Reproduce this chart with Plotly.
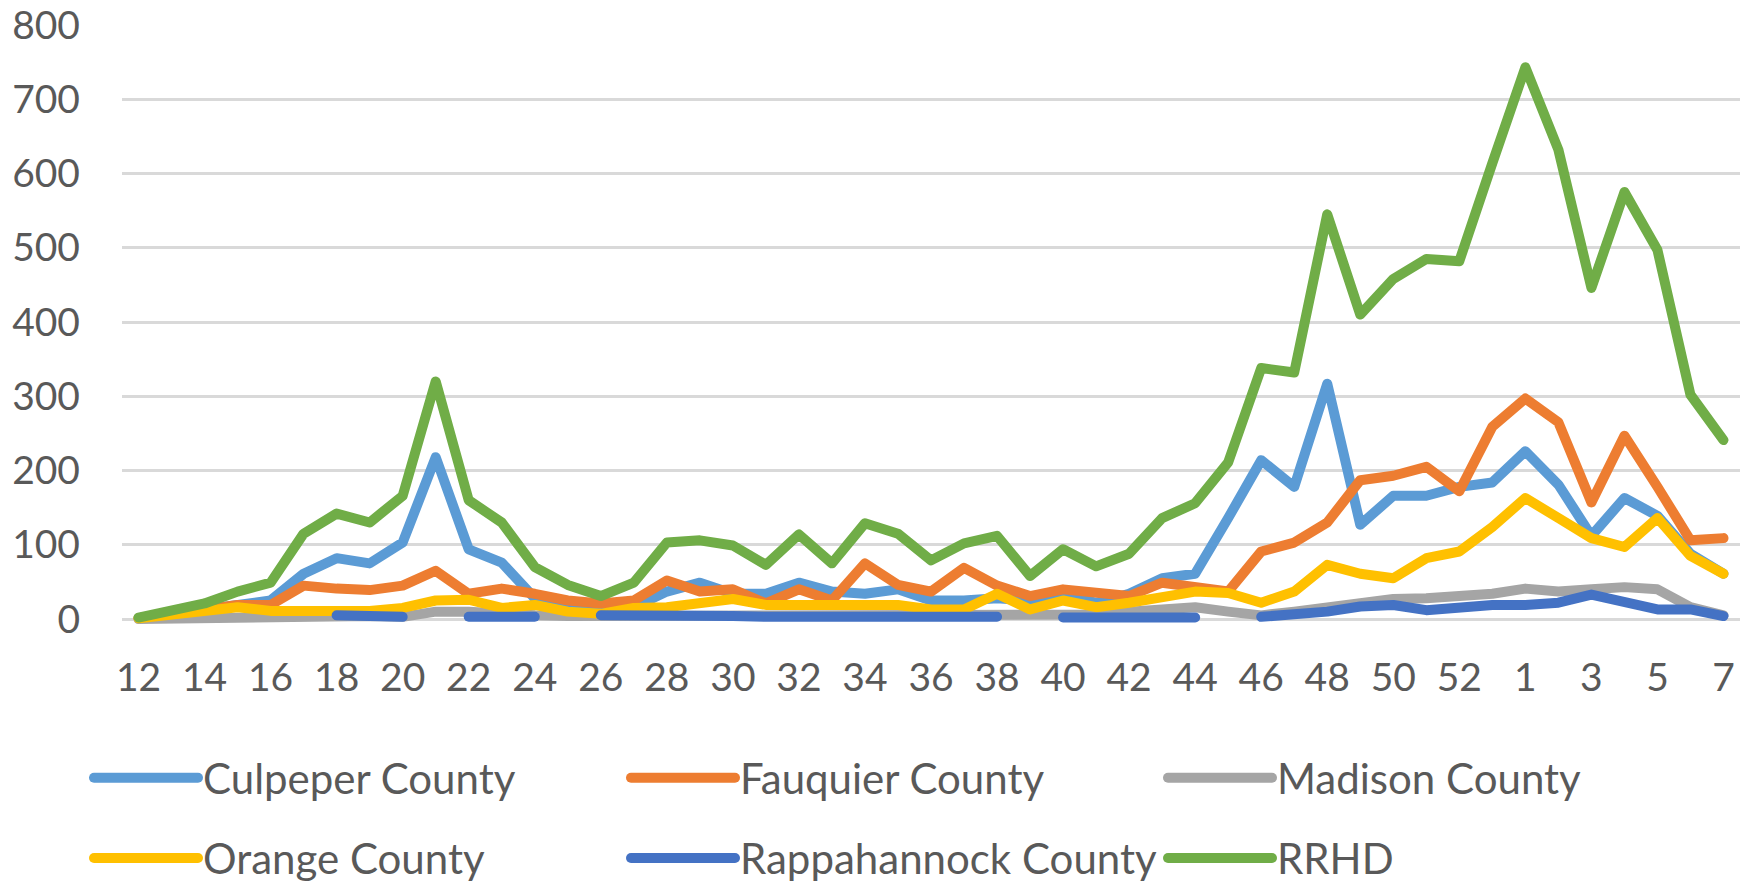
import plotly.graph_objects as go

weeks = [str(w) for w in list(range(12, 54)) + list(range(1, 8))]
x_tick_labels = weeks[::2]

culpeper = [1, 7, 16, 22, 25, 61, 82, 75, 103, 218, 94, 76, 28, 16, 13, 16, 37, 49, 34, 34,
            49, 37, 34, 40, 25, 25, 28, 25, 31, 22, 34, 55, 61, 136, 214, 178, 317, 127, 166, 166,
            178, 184, 226, 181, 112, 163, 139, 88, 61]
fauquier = [1, 5, 13, 19, 19, 45, 41, 39, 45, 65, 34, 41, 34, 25, 21, 25, 52, 37, 40, 21,
            40, 25, 75, 46, 37, 69, 45, 31, 40, 37, 31, 49, 43, 37, 91, 103, 130, 187, 193, 205,
            172, 259, 297, 265, 157, 247, 178, 106, 109]
madison = [0, 1, 2, 3, 3, 4, 5, 4, 3, 10, 10, 6, 5, 4, 4, 5, 6, 5, 5, 4,
           5, 4, 4, 5, 4, 4, 6, 7, 5, 6, 10, 13, 16, 10, 5, 10, 16, 22, 27, 28,
           31, 34, 41, 37, 40, 43, 40, 16, 5]
orange = [1, 5, 11, 16, 11, 10, 10, 11, 15, 25, 26, 15, 19, 10, 7, 15, 16, 22, 27, 19,
          19, 16, 16, 19, 13, 13, 34, 13, 25, 16, 22, 28, 37, 35, 22, 37, 73, 61, 55, 82,
          91, 124, 163, 136, 109, 97, 136, 85, 61]
rappahannock = [None, None, None, None, None, None, 5, 3, 3, None, 3, 3, 3, None, 5, 5, 7, 4, 4, 3,
                3, 3, 3, 4, 3, 3, 3, None, 2, 2, 2, 2, 2, None, 3, 5, 10, 17, 19, 12,
                16, 19, 19, 22, 33, 22, 13, 13, 4]
rrhd = [2, 10, 21, 37, 49, 115, 142, 130, 166, 320, 160, 130, 70, 46, 31, 49, 103, 106, 99, 73,
        114, 75, 129, 115, 79, 102, 112, 58, 94, 71, 88, 136, 156, 211, 338, 332, 545, 410, 458, 485,
        482, 614, 743, 632, 446, 575, 497, 302, 241]

series_names = ["Culpeper County", "Fauquier County", "Madison County",
                "Orange County", "Rappahannock County", "RRHD"]
series_values = [culpeper, fauquier, madison, orange, rappahannock, rrhd]
series_colors = ["#5B9BD5", "#ED7D31", "#A5A5A5", "#FFC000", "#4472C4", "#70AD47"]

TEXT = "#595959"
FONT = "Lato"

fig = go.Figure()
for i, (name, vals, col) in enumerate(zip(series_names, series_values, series_colors)):
    fig.add_trace(go.Scatter(
        x=weeks, y=vals, name=name, mode="lines",
        line=dict(color=col, width=10),
        connectgaps=False,
        legend="legend" if i < 3 else "legend2",
    ))

legend_common = dict(
    orientation="h", xanchor="left", yanchor="middle",
    font=dict(family=FONT, size=42, color=TEXT),
    itemwidth=104, entrywidth=418, entrywidthmode="pixels",
    bgcolor="rgba(0,0,0,0)", borderwidth=0, traceorder="normal",
    itemclick=False, itemdoubleclick=False,
)

fig.update_layout(
    width=1752, height=886,
    margin=dict(l=122, r=12, t=25, b=261, autoexpand=False),
    paper_bgcolor="white", plot_bgcolor="white",
    showlegend=True,
    legend=dict(x=-0.0204, y=-0.255, **legend_common),
    legend2=dict(x=-0.0204, y=-0.3887, **legend_common),
    xaxis=dict(
        type="category", range=[-0.5, 48.5], automargin=False,
        tickmode="array", tickvals=x_tick_labels, ticktext=x_tick_labels,
        showgrid=False, showline=False, zeroline=False, ticks="",
        tickfont=dict(family=FONT, size=39, color=TEXT),
        ticklabelstandoff=26,
    ),
    yaxis=dict(
        range=[-8, 800], automargin=False, tickmode="array", tickvals=list(range(0, 801, 100)),
        showgrid=True, gridcolor="#D9D9D9", gridwidth=3,
        zeroline=False, showline=False, ticks="",
        tickfont=dict(family=FONT, size=39, color=TEXT),
        ticklabelstandoff=41,
    ),
)

post = ("document.body.style.margin='0';"
        "var s=document.createElement('style');"
        "s.textContent='.js-line{stroke-linejoin:round !important;stroke-linecap:round !important;}';"
        "document.head.appendChild(s);")
fig.write_html("out.html", post_script=post, config={"displayModeBar": False})
